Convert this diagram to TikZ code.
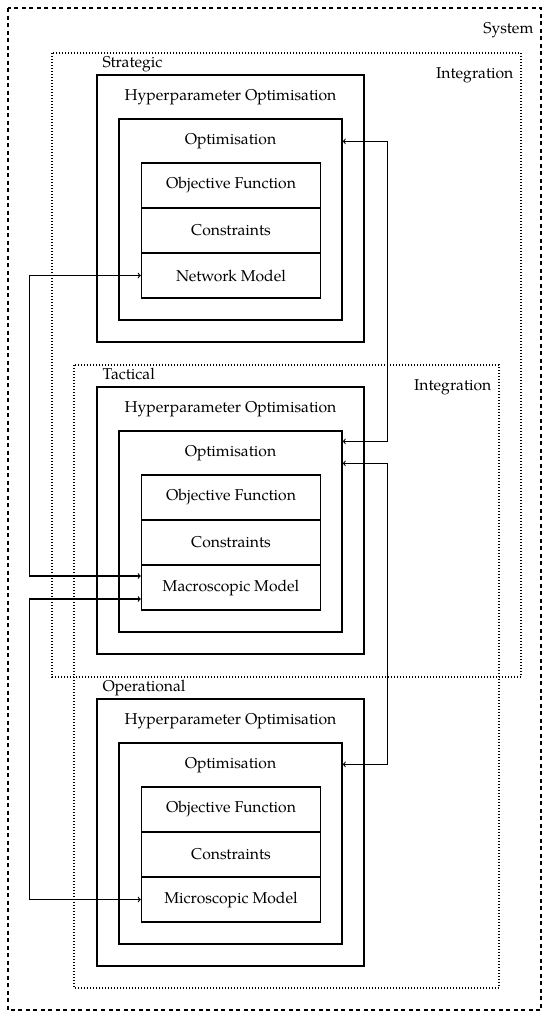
\documentclass[tikz,border=0pt]{standalone}
\usepackage{fontspec}
\setmainfont{TeX Gyre Pagella}
\usetikzlibrary{calc}

\begin{document}
\begin{tikzpicture}[x=1pt,y=-1pt,line width=1.3pt,
    font=\fontsize{15.7}{18}\selectfont,inner sep=0pt,
    frame/.style={draw,minimum width=#1},
    layerbox/.style={draw,minimum width=179pt,minimum height=45pt},
    link/.style={line width=1.1pt,<->},
    integration/.style={line width=1.1pt,dash pattern=on 1pt off 2pt},
    system/.style={line width=1.3pt,dash pattern=on 4pt off 3.5pt}]
    \path[use as bounding box] (0,0) rectangle (550,1018);
    \draw[system] (8,8) rectangle (541,1010);
    \node[anchor=base east] (sys) at (534,33) {System};
    \draw[integration] (52,53) rectangle (521,677);
    \draw[integration] (74,365) rectangle (499,988);
    \node[anchor=base east] (int0) at (514,78) {Integration};
    \node[anchor=base east] (int1) at (492,390) {Integration};
    \foreach \i/\lvl/\model in {0/Strategic/Network Model,
        1/Tactical/Macroscopic Model,2/Operational/Microscopic Model} {
      \pgfmathsetmacro\o{312*\i}
      \node[anchor=base west] (lvl\i) at (102,67+\o) {\lvl};
      \node[frame=267pt,minimum height=267pt] (hyp\i) at (230.5,208.5+\o) {};
      \node (hyptxt\i) at (230.5,97+\o) {Hyperparameter Optimisation};
      \node[frame=223pt,minimum height=201pt] (opt\i) at (230.5,219.5+\o) {};
      \node (opttxt\i) at (230.5,141+\o) {Optimisation};
      \node[layerbox] (obj\i) at (231,185.5+\o) {Objective Function};
      \node[layerbox] (con\i) at (231,230.5+\o) {Constraints};
      \node[layerbox] (mod\i) at (231,275.5+\o) {\model};
    }
    \draw[link] ($(opt0.north east)+(0,23)$) -- ++(45,0)
      |- ($(opt1.north east)+(0,11)$);
    \draw[link] ($(opt1.north east)+(0,33)$) -- ++(45,0)
      |- ($(opt2.north east)+(0,22)$);
    \draw[link] (mod0.west) -- ++(-111,0) |- ($(mod1.west)+(0,-11.5)$);
    \draw[link] ($(mod1.west)+(0,11.5)$) -- ++(-111,0) |- (mod2.west);
  \end{tikzpicture}
\end{document}
